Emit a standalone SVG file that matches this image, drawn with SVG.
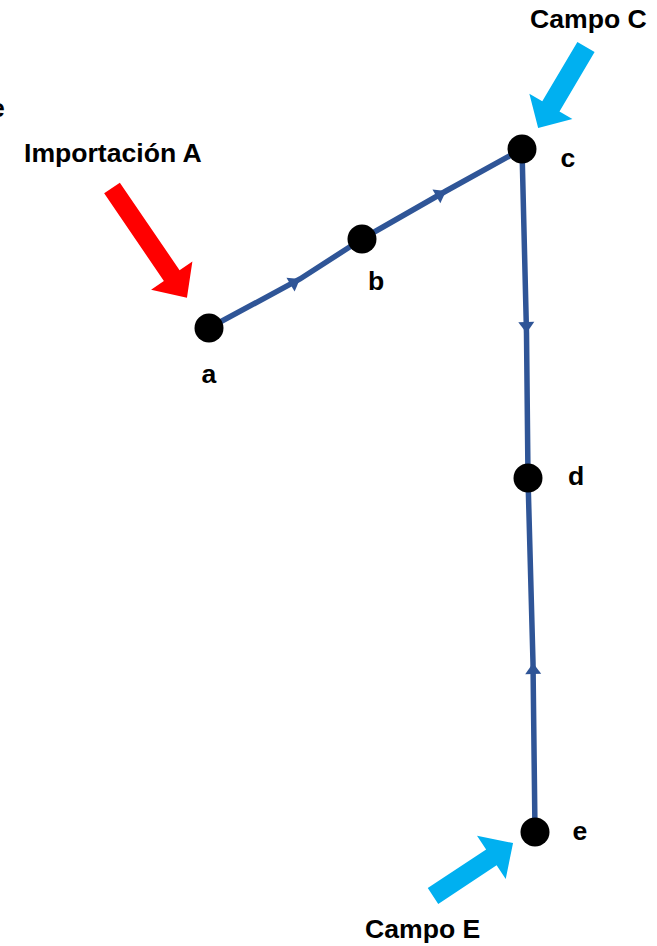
<svg xmlns="http://www.w3.org/2000/svg" width="657" height="946" viewBox="0 0 657 946">
<style>
.lbl{font-family:"Liberation Sans",Arial,sans-serif;font-weight:bold;font-size:26.6px;fill:#000}
.edge{fill:none;stroke:#2F5597;stroke-width:5.5;marker-mid:url(#tri)}
.node{fill:#000}
</style>
<defs>
<marker id="tri" markerUnits="userSpaceOnUse" markerWidth="14" markerHeight="18" viewBox="-12 -9 14 18" refX="0" refY="0" orient="auto">
<path d="M-11,-8 L0,0 L-11,8 z" fill="#2F5597"/>
</marker>
</defs>
<rect width="657" height="946" fill="#fff"/>
<g id="connectors">
<path class="edge" d="M209,328 L300,279 L362,239"/>
<path class="edge" d="M362,239 L446,191 L522,149"/>
<path class="edge" d="M522,149 L526.5,333 L528,478"/>
<path class="edge" d="M535,832 L533,663 L528,478"/>
</g>
<g id="node-a"><circle class="node" cx="209" cy="328" r="14.5"/><text class="lbl" x="209" y="383" text-anchor="middle">a</text></g>
<g id="node-b"><circle class="node" cx="362" cy="239" r="14.5"/><text class="lbl" x="376" y="290" text-anchor="middle">b</text></g>
<g id="node-c"><circle class="node" cx="522" cy="149" r="14.5"/><text class="lbl" x="568" y="167" text-anchor="middle">c</text></g>
<g id="node-d"><circle class="node" cx="528" cy="478" r="14.5"/><text class="lbl" x="576" y="485" text-anchor="middle">d</text></g>
<g id="node-e"><circle class="node" cx="535" cy="832" r="14.5"/><text class="lbl" x="580" y="840" text-anchor="middle">e</text></g>
<g id="import-a">
<polygon fill="#FF0000" transform="translate(112,188) rotate(55.7)" points="0,-9.5 106,-9.5 106,-25 133,0 106,25 106,9.5 0,9.5"/>
<text class="lbl" x="24" y="162">Importación A</text>
</g>
<g id="campo-c">
<polygon fill="#00B0F0" transform="translate(586,47) rotate(120.6)" points="0,-10 69,-10 69,-25 94,0 69,25 69,10 0,10"/>
<text class="lbl" x="530" y="28">Campo C</text>
</g>
<g id="campo-e">
<polygon fill="#00B0F0" transform="translate(433,896) rotate(-33.5)" points="0,-9.5 70,-9.5 70,-26 96,0 70,26 70,9.5 0,9.5"/>
<text class="lbl" x="365" y="938">Campo E</text>
</g>
<text class="lbl" x="-10" y="117">e</text>
</svg>
